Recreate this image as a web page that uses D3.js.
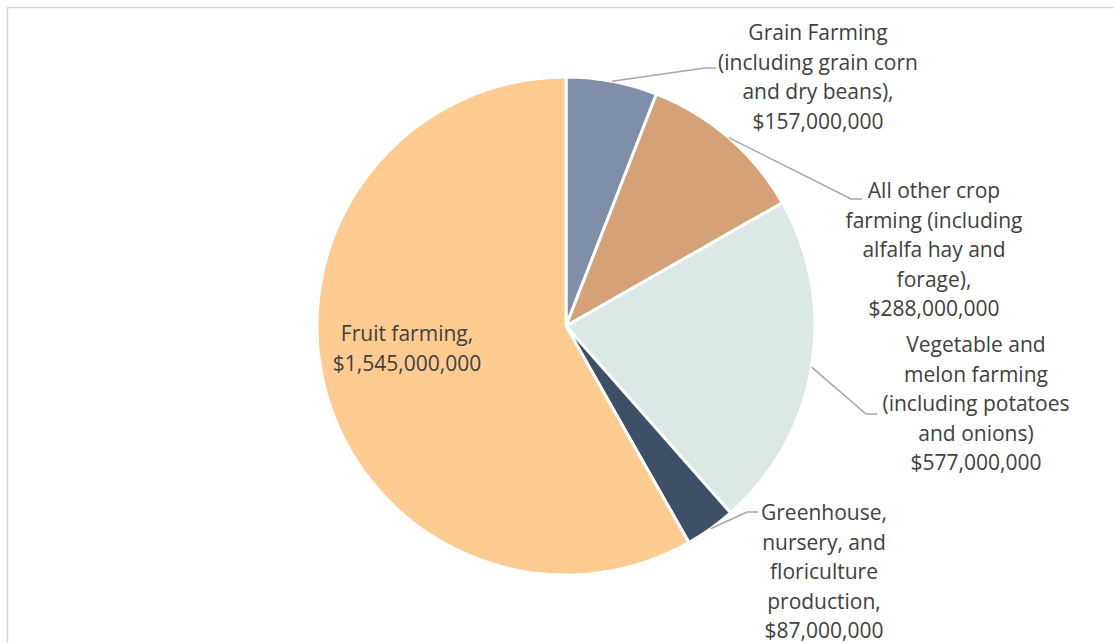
<!DOCTYPE html>
<html>
<head>
<meta charset="utf-8">
<script src="https://cdn.jsdelivr.net/npm/d3@7"></script>
<style>
  html, body { margin: 0; padding: 0; background: #ffffff; }
  svg { display: block; }
  text { font-family: "Open Sans", "Noto Sans", sans-serif; fill: #404040; }
</style>
</head>
<body>
<svg id="chart" width="1114" height="643"></svg>
<script>
// Crop production value by category (USD)
const categories = [
  "Grain Farming (including grain corn and dry beans)",
  "All other crop farming (including alfalfa hay and forage)",
  "Vegetable and melon farming (including potatoes and onions)",
  "Greenhouse, nursery, and floriculture production",
  "Fruit farming"
];
const values = [157000000, 288000000, 577000000, 87000000, 1545000000];
const colors = ["#7f8fa9", "#d4a276", "#dce8e6", "#3d5068", "#fecb90"];

// Label text broken into lines (value line appended from data)
const labelLines = [
  ["Grain Farming", "(including grain corn", "and dry beans),"],
  ["All other crop", "farming (including", "alfalfa hay and", "forage),"],
  ["Vegetable and", "melon farming", "(including potatoes", "and onions)"],
  ["Greenhouse,", "nursery, and", "floriculture", "production,"],
  ["Fruit farming,"]
];

// Label placement: block centre x, first-line centre y, leader elbow and end
const layout = [
  { cx: 818, y0: 33,  elbow: [705, 68],  end: [716, 68] },
  { cx: 934, y0: 191, elbow: [851, 199], end: [862, 199] },
  { cx: 976, y0: 345, elbow: [866, 414], end: [877, 414] },
  { cx: 824, y0: 513, elbow: [747, 512], end: [758, 512] },
  { cx: 407, y0: 334, inside: true }
];

const fmt = d3.format("$,");
const W = 1114, H = 643;
const cx = 566, cy = 326, R = 249;
const lineH = 29.5;

const svg = d3.select("#chart");

// Outer chart frame (runs past the right and bottom edges)
svg.append("rect")
  .attr("x", 7.5).attr("y", 7.5)
  .attr("width", W + 20).attr("height", H + 20)
  .attr("fill", "none")
  .attr("stroke", "#d9d9d9")
  .attr("stroke-width", 1.5);

const pie = d3.pie().sort(null).value(d => d)
  .startAngle(0).endAngle(2 * Math.PI);
const arcs = pie(values);
const arc = d3.arc().innerRadius(0).outerRadius(R);

const g = svg.append("g").attr("transform", `translate(${cx},${cy})`);

g.selectAll("path.slice")
  .data(arcs)
  .join("path")
  .attr("class", "slice")
  .attr("d", arc)
  .attr("fill", (d, i) => colors[i])
  .attr("stroke", "#ffffff")
  .attr("stroke-width", 3)
  .attr("stroke-linejoin", "round");

// Leader lines from the slice edge at its mid angle
arcs.forEach((d, i) => {
  const L = layout[i];
  if (L.inside) return;
  const a = (d.startAngle + d.endAngle) / 2;
  const sx = cx + R * Math.sin(a);
  const sy = cy - R * Math.cos(a);
  svg.append("polyline")
    .attr("points", [[sx, sy], L.elbow, L.end].map(p => p.join(",")).join(" "))
    .attr("fill", "none")
    .attr("stroke", "#a6a6a6")
    .attr("stroke-width", 1.5);
});

// Labels
arcs.forEach((d, i) => {
  const L = layout[i];
  const lines = labelLines[i].concat([fmt(values[i])]);
  const t = svg.append("text")
    .attr("text-anchor", "middle")
    .attr("font-size", 21);
  lines.forEach((s, k) => {
    t.append("tspan")
      .attr("x", L.cx)
      .attr("y", L.y0 + k * lineH)
      .attr("dy", "0.35em")
      .text(s);
  });
});
</script>
</body>
</html>
